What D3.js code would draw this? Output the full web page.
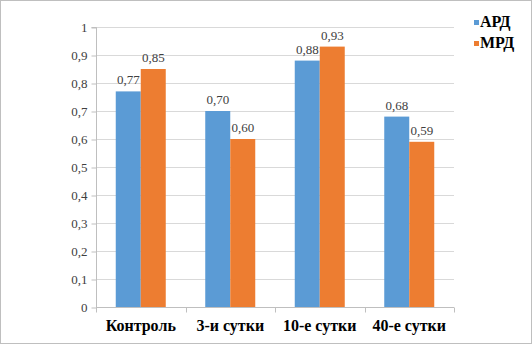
<!DOCTYPE html>
<html><head><meta charset="utf-8">
<script src="https://cdn.jsdelivr.net/npm/d3@7"></script>
<style>body{margin:0;background:#fff}svg{display:block}
svg text{font-family:"Times New Roman","Liberation Serif",serif !important}</style>
</head><body><svg id="c" width="532" height="344"></svg>
<script>
const categories = ["Контроль", "3-и сутки", "10-е сутки", "40-е сутки"];
const seriesNames = ["АРД", "МРД"];
const ard = [0.77, 0.70, 0.88, 0.68];
const mrd = [0.85, 0.60, 0.93, 0.59];
const yTicks = [0, 0.1, 0.2, 0.3, 0.4, 0.5, 0.6, 0.7, 0.8, 0.9, 1];
const colors = ["#5b9bd5", "#ed7d31"];

const svg = d3.select("#c");
const m = {l: 96, r: 454, t: 27, b: 307};
svg.append("rect").attr("x",0.5).attr("y",0.5).attr("width",531).attr("height",343)
  .attr("fill","#fff").attr("stroke","#bfbfbf");

const x = d3.scaleBand().domain(categories).range([m.l, m.r]).paddingInner(0).paddingOuter(0);
const xs = d3.scaleBand().domain(seriesNames).range([0, x.bandwidth()]).paddingInner(0).paddingOuter(0.79);
const y = d3.scaleLinear().domain([0,1]).range([m.b, m.t]);
const fmt = v => d3.format(".2f")(v).replace(".", ",");
const tfmt = v => v === 0 ? "0" : v === 1 ? "1" : d3.format(".1f")(v).replace(".", ",");

// grid
svg.append("g").selectAll("line").data(yTicks.filter(d=>d>0)).join("line")
  .attr("x1", m.l).attr("x2", m.r).attr("y1", d=>Math.round(y(d))+0.5).attr("y2", d=>Math.round(y(d))+0.5)
  .attr("stroke","#d9d9d9");

// y axis
const ya = svg.append("g").attr("transform",`translate(${m.l+0.5},0.5)`)
  .call(d3.axisLeft(y).tickValues(yTicks).tickFormat(tfmt).tickSize(5).tickPadding(4));
ya.attr("font-family", null).attr("font-size", 13);
ya.select(".domain").attr("stroke","#bfbfbf").attr("d", `M-5,${m.t}H0V${m.b}`);
ya.selectAll(".tick line").attr("stroke","#bfbfbf");
ya.selectAll("text").attr("fill","#404040");

// bars
const data = categories.map((c,i)=>({c, vals:[ard[i], mrd[i]]}));
const groups = svg.append("g").selectAll("g").data(data).join("g")
  .attr("transform", d=>`translate(${x(d.c)},0)`);
groups.selectAll("rect").data(d=>d.vals.map((v,j)=>({s:seriesNames[j], v, j}))).join("rect")
  .attr("x", d=>xs(d.s)).attr("width", xs.bandwidth())
  .attr("y", d=>y(d.v)).attr("height", d=>y(0)-y(d.v)).attr("fill", d=>colors[d.j]);
groups.selectAll("text").data(d=>d.vals.map((v,j)=>({s:seriesNames[j], v, j}))).join("text")
  .attr("x", d=>xs(d.s)+xs.bandwidth()/2).attr("y", d=>y(d.v)-7)
  .attr("text-anchor","middle").attr("font-size",13)
  .attr("fill","#404040").text(d=>fmt(d.v));

// x axis
const xa = svg.append("g").attr("transform",`translate(0,${m.b+0.5})`);
xa.append("line").attr("x1",m.l).attr("x2",m.r).attr("stroke","#bfbfbf");
xa.selectAll(".tk").data(categories.concat(["__end"])).join("line")
  .attr("x1", d=> Math.round(d==="__end"? m.r : x(d))+0.5).attr("x2", d=> Math.round(d==="__end"? m.r : x(d))+0.5)
  .attr("y1",0).attr("y2",5).attr("stroke","#bfbfbf");
xa.selectAll("text").data(categories).join("text")
  .attr("x", d=>x(d)+x.bandwidth()/2).attr("y", 23).attr("text-anchor","middle")
  .attr("font-size",16).attr("font-weight","bold")
  .attr("fill","#000").text(d=>d);

// legend
const lg = svg.append("g").selectAll("g").data(seriesNames).join("g")
  .attr("transform",(d,i)=>`translate(474,${20+i*21})`);
lg.append("rect").attr("width",5).attr("height",5).attr("fill",(d,i)=>colors[i]);
lg.append("text").attr("x",6).attr("y",7)
  .attr("font-size",16).attr("font-weight","bold").attr("fill","#000").text(d=>d);
</script></body></html>
